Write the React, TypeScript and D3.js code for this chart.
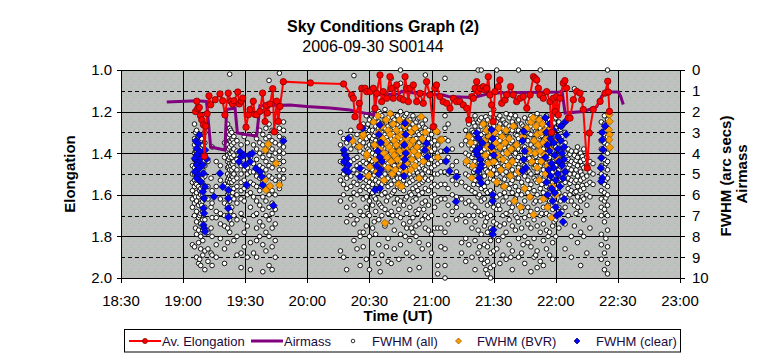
import React from 'react';
import * as d3 from 'd3';

// ---------- data (time in minutes after 18:00 UT) ----------
const timeTicks = [30, 60, 90, 120, 150, 180, 210, 240, 270, 300];
const elongMajor = [1.0, 1.2, 1.4, 1.6, 1.8, 2.0];
const elongMinor = [1.1, 1.3, 1.5, 1.7, 1.9];
const fwhmTicks = [0, 1, 2, 3, 4, 5, 6, 7, 8, 9, 10];

const avElongation: [number, number][] = [
  [66.0, 1.2], [66.6, 1.15], [67.0, 1.186], [67.8, 1.18], [68.4, 1.22], [69.0, 1.239], [69.8, 1.263], [70.3, 1.415],
  [70.9, 1.27], [71.6, 1.21], [72.5, 1.124], [73.3, 1.167], [75.5, 1.143], [77.8, 1.115], [79.1, 1.148], [80.2, 1.216],
  [81.8, 1.111], [83.1, 1.15], [83.9, 1.163], [84.6, 1.148], [86.4, 1.106], [87.1, 1.163], [88.1, 1.15], [88.8, 1.135],
  [90.4, 1.275], [91.5, 1.215], [92.3, 1.19], [93.9, 1.15], [94.6, 1.213], [95.5, 1.215], [97.1, 1.199], [98.4, 1.111],
  [99.6, 1.248], [100.2, 1.17], [100.7, 1.207], [102.0, 1.163], [103.3, 1.09], [104.0, 1.297], [105.2, 1.15], [106.0, 1.247],
  [106.8, 1.175], [108.4, 1.056], [121.5, 1.062], [137.5, 1.067], [141.4, 1.12], [142.2, 1.136], [143.0, 1.225],
  [145.1, 1.16], [145.4, 1.273], [146.3, 1.088], [147.9, 1.088], [148.7, 1.104], [150.3, 1.104], [151.9, 1.088],
  [152.7, 1.184], [153.5, 1.112], [155.1, 1.024], [155.9, 1.152], [156.7, 1.104], [158.3, 1.136], [159.9, 1.032],
  [160.8, 1.088], [161.5, 1.136], [163.2, 1.072], [164.8, 1.136], [166.4, 1.144], [167.2, 1.032], [168.0, 1.088],
  [168.8, 1.152], [169.6, 1.088], [171.2, 1.072], [172.8, 1.152], [174.4, 1.112], [176.0, 1.16], [177.6, 1.056],
  [179.2, 1.12], [180.8, 1.273], [181.6, 1.088], [182.4, 1.072], [184.0, 1.128], [185.6, 1.152], [187.3, 1.16],
  [188.9, 1.184], [190.5, 1.136], [192.1, 1.152], [193.7, 1.152], [195.3, 1.168], [197.0, 1.184], [198.0, 1.24],
  [199.4, 1.128], [200.2, 1.136], [201.0, 1.088], [201.8, 1.056], [202.6, 1.104], [203.4, 1.088], [205.0, 1.08],
  [205.8, 1.096], [206.6, 1.088], [207.4, 1.032], [208.2, 1.12], [209.0, 1.168], [209.8, 1.248], [210.6, 1.104],
  [212.2, 1.08], [213.0, 1.048], [213.9, 1.16], [215.5, 1.144], [216.3, 1.12], [218.2, 1.08], [219.5, 1.12],
  [221.1, 1.152], [222.7, 1.136], [224.3, 1.128], [226.0, 1.184], [227.6, 1.12], [229.2, 1.032], [230.0, 1.04],
  [230.8, 1.048], [231.6, 1.088], [232.4, 1.12], [234.0, 1.136], [235.6, 1.104], [237.2, 1.152], [238.0, 1.3],
  [238.8, 1.136], [239.7, 1.2], [240.4, 1.128], [241.2, 1.216], [242.0, 1.136], [243.6, 1.063], [244.4, 1.051],
  [245.2, 1.087], [246.0, 1.231], [246.9, 1.231], [248.5, 1.143], [250.1, 1.103], [251.7, 1.111], [252.5, 1.143],
  [253.3, 1.19], [255.2, 1.471], [256.2, 1.303], [258.1, 1.19], [261.4, 1.151], [263.8, 1.111], [265.1, 1.054],
  [265.4, 1.106], [265.9, 1.199]
];

const airmass: [number, number][] = [
  [52.1, 1.154], [66.5, 1.148], [71.3, 1.151], [73.3, 1.37], [80.2, 1.385], [81.0, 1.19], [85.1, 1.183],
  [86.2, 1.303], [89.9, 1.31], [95.5, 1.317], [97.1, 1.172], [111.6, 1.168], [119.7, 1.176], [131.0, 1.183],
  [140.6, 1.192], [143.8, 1.2], [151.9, 1.215], [153.5, 1.119], [164.0, 1.115], [165.6, 1.103], [176.0, 1.115],
  [185.5, 1.12], [188.1, 1.127], [197.0, 1.131], [200.0, 1.133], [209.0, 1.11], [242.0, 1.106], [243.0, 1.1],
  [244.5, 1.207], [253.2, 1.2], [256.2, 1.19], [259.8, 1.176], [262.2, 1.126], [263.8, 1.106], [270.2, 1.106],
  [271.3, 1.126], [272.6, 1.166]
];

// FWHM (all): each exposure time with the FWHM values measured in it
const fwhmAll: [number, number[]][] = [
  [64.5, [4.6, 5.0, 5.4, 5.8, 6.2, 6.6, 8.4]],
  [65.5, [2.6, 3.3, 3.6, 4.0, 4.3, 4.7, 5.0, 5.3, 5.6, 6.0, 6.4, 7.0, 8.5]],
  [66.0, [3.0, 3.9, 4.35, 4.9, 5.45, 6.1, 7.6]],
  [66.5, [2.9, 3.5, 3.9, 4.2, 4.5, 4.8, 5.1, 5.5, 5.9, 6.3, 6.8, 7.3, 7.9, 9.0]],
  [67.5, [3.2, 3.7, 4.0, 4.4, 4.7, 5.0, 5.3, 5.6, 6.1, 6.5, 7.1, 7.7, 8.3, 9.3]],
  [68.0, [3.6, 4.1, 4.5, 5.15, 5.8, 7.0, 9.1]],
  [68.5, [3.4, 3.8, 4.2, 4.6, 4.9, 5.3, 5.7, 6.0, 6.4, 6.9, 7.4, 8.0, 8.6, 9.4]],
  [69.0, [3.3, 4.3, 4.7, 5.4, 6.5]],
  [69.5, [3.6, 4.0, 4.4, 4.8, 5.2, 5.6, 6.0, 6.3, 6.8, 7.2, 7.7, 8.2, 8.9]],
  [70.5, [3.0, 3.5, 4.1, 4.6, 5.1, 5.6, 6.2, 6.6, 7.2, 7.9, 8.7, 9.6]],
  [72.0, [4.4, 5.6, 6.2, 7.8, 8.6, 9.2]],
  [73.5, [5.2, 6.6, 7.6, 8.8]],
  [74.0, [3.7, 5.8, 6.4, 7.1, 8.0, 8.9, 9.4]],
  [76.0, [4.4, 5.6, 6.8, 7.1, 8.4, 9.0]],
  [78.0, [4.6, 5.3, 6.2, 6.9, 7.4, 8.1]],
  [80.0, [3.5, 4.2, 5.5, 6.4, 7.0, 7.5, 8.6, 9.3]],
  [81.5, [2.6, 3.0, 3.3, 3.6, 3.9, 4.1, 4.4, 4.7, 5.0, 5.3, 5.6, 6.0, 6.5, 7.0, 7.6, 8.3]],
  [82.0, [3.25, 3.8, 4.3, 4.65, 5.2, 5.9]],
  [82.5, [0.2, 2.8, 3.1, 3.4, 3.7, 4.0, 4.2, 4.5, 4.8, 5.1, 5.4, 5.8, 6.3, 7.2, 7.8]],
  [83.0, [2.9, 3.45, 4.05, 4.6, 5.25, 6.8]],
  [83.5, [3.0, 3.3, 3.6, 3.9, 4.2, 4.5, 4.8, 5.1, 5.4, 5.7, 6.1, 6.6, 7.4]],
  [84.0, [3.35, 3.95, 4.55, 5.15, 5.9]],
  [84.5, [3.2, 3.5, 3.8, 4.1, 4.4, 4.7, 5.0, 5.3, 5.7, 6.2, 7.0, 8.2]],
  [86.0, [3.4, 3.9, 4.3, 4.8, 5.2, 5.6, 6.0, 6.4, 7.2, 8.0, 8.9]],
  [88.0, [3.6, 4.6, 5.0, 5.4, 5.8, 6.2, 6.9, 8.8, 9.5]],
  [89.5, [3.2, 4.8, 5.3, 5.7, 6.3, 7.2, 7.8, 8.5]],
  [91.0, [3.5, 4.7, 5.0, 5.6, 6.0, 7.5, 9.0]],
  [92.5, [4.2, 4.9, 5.4, 5.9, 6.6, 8.3, 9.6]],
  [94.0, [3.1, 3.6, 4.5, 4.9, 5.5, 6.1, 7.0, 8.8]],
  [95.5, [3.3, 3.8, 4.3, 5.1, 5.6, 6.3, 6.9, 7.6, 8.2, 9.0]],
  [97.0, [2.9, 3.5, 4.0, 4.6, 5.2, 5.8, 6.5, 7.3, 8.0]],
  [98.5, [3.1, 3.6, 4.2, 4.7, 5.0, 5.4, 6.1, 6.7, 7.5, 8.4, 9.7]],
  [100.0, [2.8, 3.3, 3.9, 4.4, 4.8, 5.2, 5.7, 6.3, 7.0, 7.8, 8.7]],
  [101.5, [0.5, 2.6, 3.2, 3.7, 4.1, 4.6, 5.1, 5.6, 6.0, 6.6, 7.2, 8.0, 9.4]],
  [103.0, [2.9, 3.4, 3.8, 4.3, 4.7, 5.2, 5.8, 6.4, 6.9, 7.6, 8.5, 9.6]],
  [104.5, [3.0, 3.5, 4.0, 4.5, 5.3, 6.0, 6.7, 7.4, 8.2, 9.0]],
  [106.5, [0.15, 2.8, 3.2, 3.6, 3.9, 4.2, 4.5, 4.8, 5.1, 5.4, 5.7]],
  [108.5, [2.5, 2.9, 3.3, 3.7, 4.0, 4.4, 4.8, 5.2]],
  [136.0, [3.0, 3.6, 4.4, 5.3, 6.3, 8.7]],
  [137.5, [3.3, 3.9, 4.5, 5.0, 5.5, 6.0, 9.0]],
  [139.0, [3.5, 4.1, 4.7, 5.2, 5.7, 6.6, 7.3, 9.6]],
  [141.0, [2.9, 3.2, 3.8, 4.4, 5.1, 5.6, 6.2, 7.0]],
  [142.5, [0.27, 3.6, 4.3, 4.8, 5.4, 5.9, 6.5, 7.4, 8.2]],
  [144.0, [3.1, 3.7, 4.2, 4.6, 5.0, 5.5, 6.0, 7.2, 8.6]],
  [145.5, [3.4, 3.9, 4.5, 5.3, 5.8, 6.8, 7.8, 8.0, 9.4]],
  [147.0, [2.6, 3.0, 3.5, 4.0, 4.4, 4.8, 5.2, 5.6, 6.2, 7.0, 7.8, 8.5]],
  [148.5, [2.2, 2.8, 3.3, 3.7, 4.1, 4.5, 4.9, 5.3, 5.7, 6.1, 6.6, 7.5, 9.1]],
  [149.3, [2.6, 3.1, 3.8, 4.2, 5.15, 5.6, 6.9]],
  [150.0, [2.4, 2.9, 3.2, 3.6, 3.9, 4.3, 4.6, 5.0, 5.4, 5.8, 6.3, 7.0, 8.0, 9.6]],
  [151.5, [2.1, 2.5, 2.9, 3.3, 3.6, 4.0, 4.4, 4.8, 5.2, 5.5, 5.9, 6.5, 7.6, 8.8]],
  [152.3, [2.35, 3.15, 3.7, 4.55, 5.05, 6.1, 7.3]],
  [153.0, [2.3, 2.7, 3.0, 3.4, 3.8, 4.1, 4.5, 4.9, 5.3, 5.7, 6.2, 6.8, 7.9]],
  [154.5, [2.0, 2.5, 2.8, 3.2, 3.5, 3.9, 4.2, 4.6, 5.0, 5.4, 5.8, 6.4, 7.2, 8.4, 9.3]],
  [155.2, [2.1, 2.95, 3.45, 4.35, 4.8, 5.6, 6.5, 9.7]],
  [156.0, [2.2, 2.6, 3.0, 3.3, 3.7, 4.0, 4.4, 4.7, 5.1, 5.5, 6.0, 6.6, 7.0, 8.9]],
  [157.5, [1.9, 2.4, 2.8, 3.1, 3.5, 3.8, 4.2, 4.6, 5.0, 5.4, 5.9, 6.7, 7.5]],
  [158.2, [2.55, 3.25, 3.95, 4.4, 5.3, 6.3, 8.5]],
  [159.0, [2.3, 2.7, 3.0, 3.4, 3.8, 4.1, 4.5, 4.8, 5.2, 5.6, 6.1, 6.9, 8.1, 9.2]],
  [160.5, [0.4, 2.1, 2.6, 2.9, 3.3, 3.6, 4.0, 4.3, 4.7, 5.1, 5.5, 6.0, 6.8, 7.3, 9.3]],
  [161.3, [2.3, 3.05, 3.75, 4.55, 5.15, 5.9, 7.0]],
  [162.0, [2.4, 2.8, 3.2, 3.5, 3.9, 4.2, 4.6, 5.0, 5.3, 5.8, 6.4, 7.7, 8.6]],
  [163.5, [2.2, 2.6, 3.0, 3.4, 3.7, 4.1, 4.4, 4.8, 5.2, 5.6, 6.2, 7.0]],
  [164.2, [2.45, 3.2, 3.85, 4.25, 4.95, 5.5, 6.7, 9.1]],
  [165.0, [0.0, 0.64, 2.0, 2.5, 2.9, 3.3, 3.6, 4.0, 4.4, 4.8, 5.2, 5.7, 6.3, 7.1, 7.9, 8.4]],
  [166.5, [2.3, 2.7, 3.1, 3.5, 3.8, 4.2, 4.6, 4.9, 5.3, 5.8, 6.5, 7.4]],
  [167.3, [2.2, 2.9, 3.65, 4.35, 5.05, 6.2, 8.0]],
  [168.0, [2.1, 2.6, 3.0, 3.3, 3.7, 4.0, 4.4, 4.8, 5.1, 5.5, 6.1, 6.9, 7.6, 8.8]],
  [169.5, [2.4, 2.8, 3.2, 3.6, 3.9, 4.3, 4.7, 5.0, 5.4, 5.9, 6.6, 7.3, 8.2, 9.6]],
  [170.2, [2.55, 3.35, 3.75, 4.6, 5.2, 6.0, 7.6]],
  [171.0, [2.2, 2.6, 3.0, 3.4, 3.8, 4.1, 4.5, 4.9, 5.3, 5.7, 6.3, 7.1, 7.8, 9.0]],
  [172.5, [2.5, 2.9, 3.3, 3.7, 4.0, 4.4, 4.8, 5.2, 5.6, 6.2, 6.8, 7.5, 8.0]],
  [173.3, [2.35, 3.0, 3.55, 4.2, 4.95, 5.8, 6.9]],
  [174.0, [2.3, 2.7, 3.1, 3.5, 3.9, 4.3, 4.7, 5.1, 5.5, 6.0, 6.7, 7.4, 8.3, 9.5]],
  [175.5, [2.6, 3.0, 3.4, 3.8, 4.2, 4.6, 5.0, 5.4, 5.9, 6.4, 7.2, 8.6]],
  [176.2, [2.75, 3.45, 4.05, 4.75, 5.3, 6.7]],
  [177.0, [0.24, 2.4, 2.8, 3.2, 3.6, 4.0, 4.4, 4.8, 5.2, 5.7, 6.3, 7.0, 7.6]],
  [178.5, [2.9, 3.3, 3.7, 4.1, 4.5, 4.9, 5.3, 5.8, 6.5, 7.1, 7.7, 8.4]],
  [180.0, [3.1, 3.5, 3.9, 4.3, 4.7, 5.2, 5.6, 6.1, 7.0, 7.9, 8.8]],
  [181.5, [2.7, 3.4, 3.8, 4.2, 4.6, 5.0, 5.5, 6.0, 6.6, 7.6]],
  [183.0, [3.0, 3.6, 4.0, 4.5, 5.0, 5.6, 6.3, 7.6, 9.4, 9.8]],
  [184.5, [3.3, 3.9, 4.4, 4.9, 5.5, 6.2, 7.6, 8.5]],
  [186.5, [0.4, 2.2, 2.8, 3.3, 3.9, 4.4, 4.9, 5.5, 6.2, 7.0, 7.8, 8.6, 9.4, 10.0]],
  [188.0, [2.6, 3.4, 4.2, 5.0, 5.7, 6.5, 7.4]],
  [190.0, [3.8, 4.6, 5.3, 6.0, 6.8]],
  [192.0, [4.4, 4.9, 5.5, 6.1, 6.6, 7.2]],
  [194.5, [3.6, 5.4, 6.2, 7.0, 8.3, 8.8]],
  [196.5, [2.9, 3.4, 4.0, 4.5, 5.0, 5.6, 6.4, 7.3, 8.1, 9.2]],
  [198.0, [2.6, 3.1, 3.6, 4.1, 4.6, 5.1, 5.7, 6.3, 7.0, 8.4]],
  [199.5, [2.4, 2.9, 3.3, 3.8, 4.2, 4.7, 5.2, 5.8, 6.5, 7.6, 9.0]],
  [200.3, [2.55, 3.0, 3.65, 4.05, 4.9, 5.5, 7.0]],
  [201.0, [2.2, 2.7, 3.1, 3.5, 3.9, 4.4, 4.8, 5.3, 5.9, 6.6, 7.3, 8.2, 9.6]],
  [202.5, [0.0, 2.5, 2.9, 3.3, 3.7, 4.1, 4.5, 5.0, 5.5, 6.1, 6.8, 7.7, 8.8]],
  [203.2, [2.4, 3.2, 3.6, 4.45, 4.95, 6.0, 8.5]],
  [204.0, [0.0, 2.3, 2.7, 3.1, 3.5, 3.9, 4.3, 4.7, 5.2, 5.7, 6.3, 7.0, 7.9, 9.1]],
  [205.5, [2.6, 3.0, 3.4, 3.8, 4.2, 4.6, 5.1, 5.6, 6.2, 6.9, 7.5, 8.4, 9.3]],
  [206.2, [2.25, 2.9, 3.55, 4.3, 4.8, 5.8, 7.3, 9.6]],
  [207.0, [2.4, 2.8, 3.2, 3.6, 4.0, 4.4, 4.9, 5.4, 5.9, 6.5, 7.1, 7.8, 8.5, 9.2, 9.8]],
  [208.5, [2.1, 2.6, 3.0, 3.4, 3.8, 4.2, 4.7, 5.2, 5.8, 6.4, 7.0, 7.6, 8.2, 8.8, 9.5, 10.0]],
  [209.3, [2.45, 3.25, 3.65, 4.5, 5.05, 6.2, 7.9]],
  [210.0, [1.9, 2.3, 2.7, 3.1, 3.5, 3.9, 4.3, 4.8, 5.3, 5.9, 6.6, 7.3, 8.0, 8.7, 9.4]],
  [211.5, [0.0, 2.5, 2.9, 3.3, 3.7, 4.1, 4.5, 5.0, 5.5, 6.1, 6.7, 7.4, 8.6]],
  [212.3, [2.3, 2.95, 3.55, 4.25, 4.65, 5.3, 6.5, 8.2]],
  [213.0, [2.2, 2.6, 3.0, 3.4, 3.8, 4.3, 4.8, 5.4, 6.0, 6.7, 7.5, 9.3]],
  [214.5, [2.4, 2.8, 3.2, 3.6, 4.0, 4.5, 5.0, 5.6, 6.3, 7.0, 8.0, 8.9]],
  [215.2, [2.55, 3.3, 3.75, 4.6, 5.25, 5.9, 7.4]],
  [216.0, [2.1, 2.6, 3.0, 3.5, 3.9, 4.4, 4.9, 5.5, 6.1, 6.9, 7.8, 9.1]],
  [217.5, [2.3, 2.7, 3.2, 3.7, 4.1, 4.6, 5.1, 5.7, 6.4, 7.2, 8.4]],
  [218.3, [2.15, 2.85, 3.5, 4.2, 4.85, 5.45, 6.8, 9.0]],
  [219.0, [2.5, 2.9, 3.4, 3.8, 4.3, 4.8, 5.3, 5.9, 6.6, 7.5, 8.7, 9.6]],
  [220.5, [2.2, 2.7, 3.1, 3.6, 4.0, 4.5, 5.0, 5.6, 6.2, 7.0, 7.7]],
  [221.3, [2.45, 3.15, 3.8, 4.35, 5.2, 6.0, 7.1]],
  [222.0, [0.0, 2.4, 2.9, 3.3, 3.8, 4.2, 4.7, 5.2, 5.8, 6.5, 7.3, 8.1, 9.0]],
  [223.5, [2.6, 3.0, 3.5, 3.9, 4.4, 4.9, 5.4, 6.0, 6.8, 7.6, 8.8]],
  [224.2, [2.7, 3.3, 3.65, 4.55, 5.0, 5.6, 6.6, 8.4]],
  [225.0, [2.3, 2.8, 3.2, 3.7, 4.1, 4.6, 5.1, 5.7, 6.3, 7.1, 8.0, 9.3]],
  [226.5, [2.5, 2.9, 3.4, 3.8, 4.3, 4.8, 5.3, 5.9, 6.6, 7.4, 8.3]],
  [227.2, [2.35, 3.05, 3.85, 4.25, 4.9, 5.7, 7.0]],
  [228.0, [2.2, 2.7, 3.1, 3.6, 4.0, 4.5, 5.0, 5.5, 6.1, 6.8, 7.6, 8.5, 9.7]],
  [229.5, [2.4, 2.8, 3.3, 3.7, 4.2, 4.7, 5.2, 5.8, 6.4, 7.2, 8.1, 9.0]],
  [230.3, [2.25, 2.95, 3.6, 4.15, 4.6, 5.3, 6.3, 8.9]],
  [231.0, [2.1, 2.6, 3.0, 3.5, 3.9, 4.4, 4.9, 5.4, 6.0, 6.7, 7.5, 8.7, 9.5]],
  [232.5, [0.0, 2.3, 2.8, 3.2, 3.7, 4.1, 4.6, 5.1, 5.7, 6.3, 7.0, 7.8, 9.2]],
  [233.2, [2.6, 3.15, 3.55, 4.45, 5.0, 5.5, 6.9]],
  [234.0, [2.5, 2.9, 3.4, 3.8, 4.3, 4.8, 5.3, 5.9, 6.6, 7.4, 8.2, 9.4]],
  [235.5, [2.2, 2.7, 3.1, 3.6, 4.0, 4.5, 5.0, 5.6, 6.2, 6.9, 7.7, 8.6]],
  [236.3, [2.35, 3.0, 3.85, 4.25, 4.75, 5.35, 6.5, 8.0]],
  [237.0, [2.4, 2.8, 3.3, 3.7, 4.2, 4.7, 5.2, 5.7, 6.3, 7.0, 7.8, 8.9]],
  [238.5, [2.1, 2.6, 3.0, 3.5, 3.9, 4.4, 4.9, 5.4, 6.0, 6.7, 7.5, 8.3, 9.1]],
  [239.2, [2.55, 3.25, 3.65, 4.55, 5.2, 6.1, 7.3]],
  [240.0, [2.3, 2.8, 3.2, 3.7, 4.1, 4.6, 5.1, 5.7, 6.4, 7.2, 8.0]],
  [241.5, [2.5, 2.9, 3.4, 3.8, 4.3, 4.8, 5.3, 5.9, 6.6, 7.6]],
  [242.3, [2.85, 3.35, 3.9, 4.65, 5.25, 6.3]],
  [243.0, [2.7, 3.2, 3.6, 4.1, 4.5, 5.0, 5.5, 6.1, 6.8]],
  [244.5, [3.0, 3.5, 4.0, 4.4, 4.9, 5.4, 6.0, 6.6, 7.4, 8.6]],
  [246.0, [3.8, 4.3, 4.7, 5.2, 5.7, 6.3, 7.0]],
  [246.8, [4.05, 4.55, 5.0, 5.45, 6.0]],
  [247.5, [3.9, 4.4, 4.8, 5.3, 5.8, 6.3, 8.0, 9.0]],
  [249.0, [0.9, 4.1, 4.5, 5.0, 5.4, 5.9, 6.5, 7.5]],
  [249.8, [3.9, 4.35, 4.8, 5.3, 5.85, 6.9]],
  [250.5, [3.7, 4.2, 4.6, 5.1, 5.6, 6.1, 6.6, 8.3]],
  [252.0, [4.0, 4.4, 4.9, 5.3, 5.8, 6.3, 6.8, 7.8, 9.4]],
  [252.8, [4.15, 4.6, 5.05, 5.55, 6.1]],
  [253.5, [3.8, 4.3, 4.7, 5.2, 5.7, 6.2, 7.2, 8.0]],
  [255.0, [4.2, 4.6, 5.1, 5.5, 6.0, 6.5, 8.8]],
  [256.5, [4.4, 4.9, 5.4, 6.1, 7.6]],
  [258.0, [4.5, 5.0, 5.5]],
  [262.0, [2.5, 3.0, 3.4, 3.8, 4.2, 4.6, 5.0, 5.4, 5.8, 6.2, 6.6, 7.0, 7.9, 8.4, 9.1]],
  [263.5, [2.2, 2.6, 3.1, 3.5, 3.9, 4.3, 4.7, 5.1, 5.5, 5.9, 6.3, 6.7, 7.3, 8.8, 9.6]],
  [264.2, [2.9, 3.7, 4.5, 5.3, 6.15, 6.9, 8.1]],
  [265.0, [0.0, 2.4, 2.8, 3.2, 3.6, 4.0, 4.4, 4.8, 5.2, 5.6, 6.0, 6.5, 7.0, 7.7, 8.5, 9.3, 9.8]]
];

const fwhmBVR: [number, number][] = [
  [99.5, 5.3], [99.7, 3.85], [100.0, 5.77], [101.1, 3.57], [102.0, 5.58], [104.9, 4.49], [106.5, 5.53],
  [141.4, 3.35], [141.9, 3.41], [145.1, 3.69], [146.7, 3.2], [147.0, 3.1], [148.7, 4.15], [148.7, 4.05], [149.5, 5.1],
  [150.3, 4.65], [152.0, 2.5], [152.5, 3.6], [153.0, 4.3], [153.5, 4.9], [154.0, 2.2], [154.5, 3.0], [155.0, 3.8],
  [155.5, 4.5], [156.0, 2.7], [156.5, 3.3], [157.0, 4.0], [157.0, 5.3], [157.5, 7.36], [158.0, 2.4], [158.0, 3.5],
  [158.5, 4.2], [159.0, 2.9], [159.0, 4.7], [159.5, 3.7], [160.0, 2.1], [160.0, 3.1], [160.5, 4.4], [161.0, 3.9],
  [161.0, 5.0], [161.5, 2.6], [162.0, 3.4], [162.0, 4.1], [162.5, 4.8], [163.0, 2.9], [163.0, 3.6], [163.5, 4.3],
  [164.0, 3.2], [164.0, 5.5], [164.5, 2.4], [164.5, 3.9], [165.0, 4.6], [165.5, 5.6], [165.5, 3.1], [166.0, 3.5],
  [166.5, 4.2], [167.0, 2.7], [167.0, 4.9], [167.5, 3.8], [168.0, 3.3], [168.0, 4.5], [168.5, 2.5], [169.0, 4.0],
  [169.5, 3.6], [170.0, 3.0], [170.0, 4.8], [170.5, 4.3], [171.0, 3.4], [171.5, 3.9], [172.0, 2.8], [172.0, 4.6],
  [173.0, 3.7], [173.5, 4.1], [174.0, 5.2], [175.0, 2.25], [175.5, 3.3], [176.0, 4.4], [177.0, 3.0], [178.0, 3.8],
  [182.4, 2.95], [183.0, 4.2], [184.0, 3.35], [184.4, 3.37], [184.9, 3.35],
  [196.9, 4.39], [198.0, 3.2], [199.0, 3.5], [199.4, 5.19], [200.0, 4.6], [205.0, 2.6], [205.5, 3.4], [206.0, 4.1],
  [206.5, 2.9], [207.0, 3.7], [207.5, 4.5], [208.0, 3.2], [208.5, 5.0], [209.0, 2.5], [209.5, 3.9], [210.0, 4.4],
  [210.5, 3.0], [211.0, 3.5], [211.5, 5.4], [212.0, 4.1], [212.5, 2.8], [213.0, 3.7], [213.5, 4.8], [214.0, 3.2],
  [214.5, 4.3], [215.0, 5.6], [215.5, 3.5], [216.0, 2.9], [216.5, 4.0], [217.0, 4.6], [217.5, 3.3], [218.0, 5.1],
  [218.5, 3.8], [219.0, 4.4], [219.5, 2.7], [220.0, 6.3], [221.0, 3.6], [222.0, 4.9], [223.0, 6.6], [224.0, 3.2],
  [225.0, 5.7], [226.0, 2.8], [227.0, 3.9], [227.5, 6.1], [228.0, 2.5], [228.5, 4.4], [229.0, 2.3], [229.2, 6.96],
  [229.5, 3.4], [230.0, 4.0], [230.5, 2.7], [231.0, 3.1], [231.0, 4.7], [231.5, 3.6], [232.0, 2.4], [232.0, 5.3],
  [232.5, 3.9], [233.0, 3.0], [233.0, 4.4], [233.5, 2.6], [234.0, 3.5], [234.0, 6.2], [234.5, 4.1], [235.0, 2.9],
  [235.0, 5.0], [235.5, 3.3], [236.0, 4.6], [236.0, 6.6], [237.0, 3.8], [237.5, 2.8], [238.0, 7.1], [238.5, 5.6],
  [239.0, 3.4], [240.0, 6.0], [241.0, 4.3],
  [265.8, 2.15], [266.0, 2.47], [265.6, 2.87], [266.0, 3.11], [265.8, 3.35], [266.1, 3.72]
];

const fwhmClear: [number, number][] = [
  [67.8, 3.13], [66.1, 3.41], [67.3, 3.53], [66.6, 3.77], [68.2, 3.93], [66.6, 4.09], [65.7, 4.25], [67.3, 4.41],
  [68.5, 4.25], [69.8, 4.09], [70.6, 3.85], [71.4, 4.28], [66.6, 4.57], [67.8, 4.73], [69.5, 4.57], [65.7, 4.89],
  [67.3, 5.05], [69.8, 4.97], [66.6, 5.21], [68.6, 5.37], [70.6, 5.61], [69.5, 5.85], [70.1, 6.17], [69.8, 6.65],
  [70.1, 6.89], [69.8, 7.45], [70.2, 7.61], [70.6, 7.77],
  [77.8, 4.97], [79.1, 5.61], [74.9, 6.09], [81.8, 5.77], [81.8, 6.17], [81.8, 6.65], [81.8, 7.08], [87.5, 3.93],
  [88.0, 4.17], [87.0, 4.41], [89.4, 4.09], [89.9, 4.57], [92.0, 4.09], [92.3, 4.41], [90.7, 5.53], [93.4, 4.01],
  [95.2, 4.73], [97.1, 4.89], [98.0, 5.13], [98.4, 5.53], [103.6, 6.52], [108.4, 3.41],
  [137.7, 3.85], [139.8, 3.29], [138.2, 4.09], [139.0, 4.25], [137.7, 4.41], [139.8, 4.57], [138.2, 4.81],
  [139.8, 4.89], [145.4, 4.73], [145.4, 5.13], [146.7, 2.8], [152.7, 5.77], [155.0, 5.69], [155.0, 2.64],
  [154.5, 3.1], [155.5, 3.5], [154.0, 3.9], [155.0, 4.2], [153.5, 4.6], [155.5, 4.8], [156.0, 4.4], [154.5, 5.0],
  [167.2, 2.56], [167.5, 3.1], [166.8, 3.6], [167.6, 4.0], [167.0, 4.3], [166.4, 4.65], [166.7, 5.1],
  [177.6, 3.53], [176.8, 3.85], [178.0, 4.17], [187.3, 3.85], [187.0, 4.39], [188.6, 4.86], [192.1, 5.13], [191.8, 6.33],
  [201.8, 3.03], [202.5, 3.27], [203.0, 3.75], [202.0, 4.07], [203.5, 4.31], [204.0, 4.55], [202.5, 4.87],
  [203.0, 5.19], [204.0, 5.43], [204.5, 3.5], [201.5, 3.9], [203.5, 4.7], [209.5, 6.0], [209.5, 6.3], [209.8, 7.68],
  [209.5, 7.9], [209.0, 2.87], [209.5, 3.3], [209.0, 3.7], [210.0, 4.1],
  [224.5, 2.95], [224.0, 3.4], [225.0, 3.9], [224.5, 4.3], [225.5, 4.7], [224.0, 4.85],
  [235.0, 2.3], [235.5, 3.0], [236.0, 3.6], [235.0, 4.2], [236.5, 4.8], [235.5, 5.4], [236.0, 6.0], [237.0, 2.6],
  [237.5, 3.3], [237.0, 3.9], [238.0, 4.5], [237.5, 5.1], [238.0, 5.7], [238.5, 6.3], [239.0, 2.9], [239.0, 3.5],
  [239.5, 4.1], [239.0, 4.7], [240.0, 5.3], [239.5, 5.9], [240.0, 6.6], [240.5, 7.0], [241.0, 3.2], [241.0, 3.8],
  [241.5, 4.4], [241.0, 5.0], [242.0, 5.6], [242.0, 6.9], [242.5, 2.7], [242.5, 3.4], [243.0, 4.0], [243.0, 4.6],
  [243.5, 5.2], [243.5, 7.3], [244.0, 3.7], [244.0, 4.3], [244.5, 2.5], [244.5, 4.9], [245.0, 3.1], [244.0, 6.2],
  [262.5, 3.0], [263.8, 2.7], [262.5, 3.35], [262.8, 3.83], [262.0, 4.23], [261.8, 4.71], [262.5, 5.19], [262.0, 5.35]
];

// ---------- layout ----------
const W = 763;
const H = 359;
const plot = { left: 121, right: 680, top: 70, bottom: 278 };
const FONT = 'Arial, "Liberation Sans", sans-serif';

const fmtTime = (m: number) => {
  const h = 18 + Math.floor(m / 60);
  const mm = m % 60;
  return `${h}:${mm < 10 ? '0' : ''}${mm}`;
};

const diamond = (r: number) => `M0,${-r}L${r},0L0,${r}L${-r},0Z`;

export default function App() {
  const x = d3.scaleLinear().domain([30, 300]).range([plot.left, plot.right]);
  const yL = d3.scaleLinear().domain([1, 2]).range([plot.top, plot.bottom]);
  const yR = d3.scaleLinear().domain([0, 10]).range([plot.top, plot.bottom]);
  const px = (v: number) => Math.round(v) + 0.5;

  const lineE = d3.line<[number, number]>().x(d => x(d[0])).y(d => yL(d[1]));
  const allPts = fwhmAll.flatMap(([t, vs]) => vs.map(v => [t, v] as [number, number]));

  return (
    <svg width={W} height={H} style={{ position: 'fixed', left: 0, top: 0, background: '#fff' }}
      fontFamily={FONT}>
      <defs>
        <pattern id="stip" width="8" height="8" patternUnits="userSpaceOnUse" x={plot.left} y={plot.top}>
          <rect width="8" height="8" fill="#c0c0c0" />
          <rect x="1" y="1" width="1" height="1" fill="#98c898" />
          <rect x="5" y="3" width="1" height="1" fill="#98c898" />
          <rect x="2" y="6" width="1" height="1" fill="#98c898" />
        </pattern>
        <clipPath id="clip">
          <rect x={plot.left} y={plot.top - 4} width={plot.right - plot.left} height={plot.bottom - plot.top + 8} />
        </clipPath>
      </defs>

      {/* titles */}
      <text x={383} y={32} textAnchor="middle" fontWeight="bold" fontSize={16}>Sky Conditions Graph (2)</text>
      <text x={373} y={52} textAnchor="middle" fontSize={16}>2006-09-30 S00144</text>

      {/* plot area */}
      <rect x={plot.left} y={plot.top} width={plot.right - plot.left} height={plot.bottom - plot.top} fill="url(#stip)" />

      {/* gridlines */}
      {elongMinor.map(v => (
        <line key={'mn' + v} x1={plot.left} x2={plot.right} y1={px(yL(v))} y2={px(yL(v))}
          stroke="#000" strokeDasharray="4,3" strokeWidth={1} />
      ))}
      {elongMajor.map(v => (
        <line key={'mj' + v} x1={plot.left} x2={plot.right} y1={px(yL(v))} y2={px(yL(v))} stroke="#000" strokeWidth={1} />
      ))}
      {timeTicks.map(t => (
        <line key={'vg' + t} x1={px(x(t))} x2={px(x(t))} y1={plot.top} y2={plot.bottom} stroke="#000" strokeWidth={1} />
      ))}

      {/* axes */}
      <line x1={px(plot.left)} x2={px(plot.left)} y1={plot.top} y2={plot.bottom + 1} stroke="#000" />
      <line x1={px(plot.right)} x2={px(plot.right)} y1={plot.top} y2={plot.bottom + 1} stroke="#000" />
      <line x1={plot.left} x2={plot.right + 1} y1={px(plot.bottom)} y2={px(plot.bottom)} stroke="#000" />
      {elongMajor.map(v => (
        <g key={'lt' + v}>
          <line x1={plot.left - 4} x2={plot.left} y1={px(yL(v))} y2={px(yL(v))} stroke="#000" />
          <text x={plot.left - 9} y={yL(v)} dy="0.36em" textAnchor="end" fontSize={15}>{v.toFixed(1)}</text>
        </g>
      ))}
      {fwhmTicks.map(v => (
        <g key={'rt' + v}>
          <line x1={plot.right} x2={plot.right + 5} y1={px(yR(v))} y2={px(yR(v))} stroke="#000" />
          <text x={plot.right + 12} y={yR(v)} dy="0.36em" textAnchor="start" fontSize={15}>{v}</text>
        </g>
      ))}
      {timeTicks.map(t => (
        <g key={'xt' + t}>
          <line x1={px(x(t))} x2={px(x(t))} y1={plot.bottom} y2={plot.bottom + 5} stroke="#000" />
          <text x={x(t)} y={306} textAnchor="middle" fontSize={15}>{fmtTime(t)}</text>
        </g>
      ))}

      {/* axis titles */}
      <text transform="translate(75,174) rotate(-90)" textAnchor="middle" fontWeight="bold" fontSize={15}>Elongation</text>
      <text transform="translate(731,176) rotate(-90)" textAnchor="middle" fontWeight="bold" fontSize={15}>FWHM (arc secs)</text>
      <text transform="translate(747,174) rotate(-90)" textAnchor="middle" fontWeight="bold" fontSize={15}>Airmass</text>
      <text x={398} y={321} textAnchor="middle" fontWeight="bold" fontSize={15}>Time (UT)</text>

      {/* series */}
      <g clipPath="url(#clip)">
        {allPts.map((d, i) => (
          <circle key={'a' + i} cx={x(d[0])} cy={yR(d[1])} r={2.3} fill="#fff" stroke="#000" strokeWidth={0.9} />
        ))}
        {fwhmBVR.map((d, i) => (
          <path key={'b' + i} d={diamond(3.8)} transform={`translate(${x(d[0])},${yR(d[1])})`}
            fill="#ff9900" stroke="#8a5a00" strokeWidth={0.7} />
        ))}
        {fwhmClear.map((d, i) => (
          <path key={'c' + i} d={diamond(3.8)} transform={`translate(${x(d[0])},${yR(d[1])})`}
            fill="#0000ff" stroke="#000060" strokeWidth={0.7} />
        ))}
        <path d={lineE(airmass) || ''} fill="none" stroke="#800080" strokeWidth={3} />
        <path d={lineE(avElongation) || ''} fill="none" stroke="#ff0000" strokeWidth={2} />
        {avElongation.map((d, i) => (
          <circle key={'e' + i} cx={x(d[0])} cy={yL(d[1])} r={3.2} fill="#ff0000" stroke="#800000" strokeWidth={0.8} />
        ))}
      </g>

      {/* legend */}
      <rect x={124.5} y={329.5} width={556} height={22.5} fill="#fff" stroke="#000" />
      <g fontSize={13} fill="#1a0a40">
        <line x1={129} x2={161} y1={341} y2={341} stroke="#ff0000" strokeWidth={2} />
        <circle cx={145} cy={341} r={2.5} fill="#ff0000" stroke="#800000" strokeWidth={0.8} />
        <text x={162} y={345.5}>Av. Elongation</text>
        <line x1={251} x2={283} y1={341} y2={341} stroke="#800080" strokeWidth={3} />
        <text x={284} y={345.5}>Airmass</text>
        <circle cx={353} cy={341} r={1.8} fill="#fff" stroke="#000" strokeWidth={0.8} />
        <text x={372} y={345.5}>FWHM (all)</text>
        <path d={diamond(3)} transform="translate(458.5,341)" fill="#ff9900" stroke="#8a5a00" strokeWidth={0.7} />
        <text x={477} y={345.5}>FWHM (BVR)</text>
        <path d={diamond(3)} transform="translate(577,341)" fill="#0000ff" stroke="#000060" strokeWidth={0.7} />
        <text x={596} y={345.5}>FWHM (clear)</text>
      </g>
    </svg>
  );
}
